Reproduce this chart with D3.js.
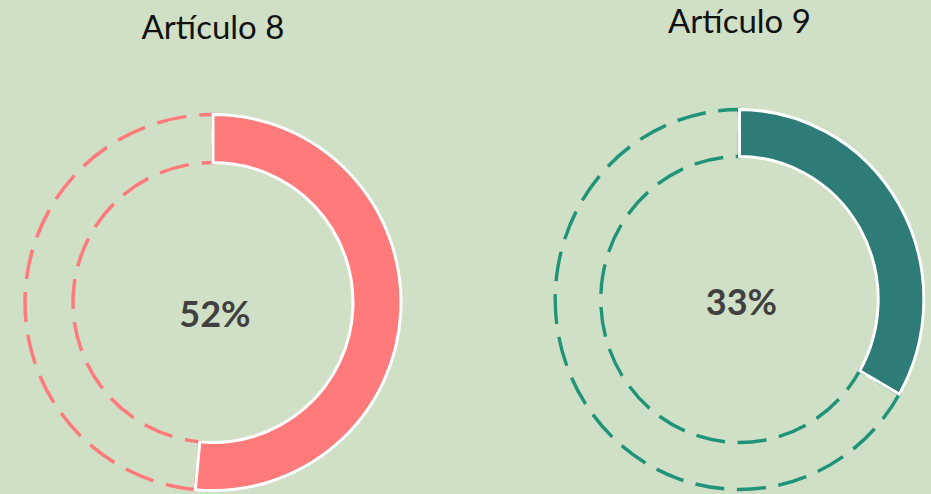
<!DOCTYPE html>
<html>
<head>
<meta charset="utf-8">
<script src="https://cdn.jsdelivr.net/npm/d3@7"></script>
<style>
  body { margin: 0; background: #d0e0c6; }
  svg { display: block; }
</style>
</head>
<body>
<div id="chart"></div>
<script>
// Chart data
var titles = ["Artículo 8", "Artículo 9"];
var shares = [0.515, 0.333];
var pctLabels = ["52%", "33%"];
var colors = ["#ff7a7a", "#2e7c77"];
var dashColors = ["#ff7a7a", "#1f9479"];

var svgWidth = 931;
var svgHeight = 494;

var svg = d3.select("#chart")
  .append("svg")
  .attr("width", svgWidth)
  .attr("height", svgHeight);

// layout for each donut
var layout = [
  { cx: 213, cy: 302.5, outer: 188, inner: 140, sx: 1, titleY: 39, pctY: 327 },
  { cx: 739.5, cy: 299.5, outer: 190, inner: 143, sx: 0.97, titleY: 33, pctY: 315 }
];

var pie = d3.pie().sort(null).value(d => d);

titles.forEach(function(title, i) {
  var L = layout[i];
  var arc = d3.arc().innerRadius(L.inner).outerRadius(L.outer);
  var slices = pie([shares[i], 1 - shares[i]]);

  var g = svg.append("g")
    .attr("transform", `translate(${L.cx}, ${L.cy}) scale(${L.sx}, 1)`);

  // remaining part: dashed outline only
  g.append("path")
    .attr("d", arc(slices[1]))
    .attr("fill", "none")
    .attr("stroke", dashColors[i])
    .attr("stroke-width", 3.5)
    .attr("stroke-dasharray", "30,13");

  // filled part with white border
  g.append("path")
    .attr("d", arc(slices[0]))
    .attr("fill", colors[i])
    .attr("stroke", "#ffffff")
    .attr("stroke-width", 3);

  svg.append("text")
    .attr("x", L.cx)
    .attr("y", L.titleY)
    .attr("text-anchor", "middle")
    .attr("font-family", "Lato, 'Open Sans', sans-serif")
    .attr("font-size", 33)
    .attr("fill", "#111")
    .text(title);

  svg.append("text")
    .attr("x", L.cx + 2)
    .attr("y", L.pctY)
    .attr("text-anchor", "middle")
    .attr("font-family", "Lato, 'Open Sans', sans-serif")
    .attr("font-weight", "bold")
    .attr("font-size", 36)
    .attr("fill", "#404040")
    .text(pctLabels[i]);
});
</script>
</body>
</html>
